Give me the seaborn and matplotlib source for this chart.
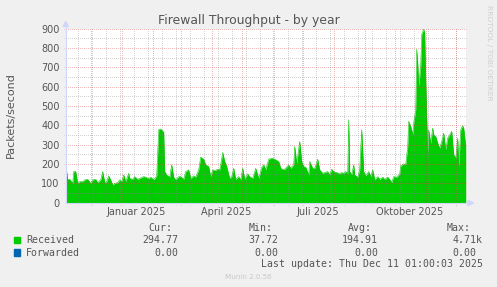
import numpy as np
import pandas as pd
import matplotlib
matplotlib.use("Agg")
import matplotlib.pyplot as plt
from matplotlib.patches import Rectangle, Polygon
from matplotlib.lines import Line2D
import seaborn as sns

# ---------------- data ----------------
dates = ["2024-11-06","2024-11-08","2024-11-10","2024-11-13","2024-11-14","2024-11-16","2024-11-18","2024-11-20","2024-11-23","2024-11-25","2024-11-28",
         "2024-12-01","2024-12-03","2024-12-06","2024-12-08","2024-12-11","2024-12-13","2024-12-15","2024-12-17","2024-12-19","2024-12-21","2024-12-23","2024-12-25","2024-12-28","2024-12-30",
         "2025-01-01","2025-01-03","2025-01-05","2025-01-08","2025-01-09","2025-01-12","2025-01-14","2025-01-17","2025-01-19","2025-01-23","2025-01-25","2025-01-28","2025-01-30",
         "2025-02-02","2025-02-05","2025-02-07","2025-02-09","2025-02-12","2025-02-13","2025-02-15","2025-02-18","2025-02-20","2025-02-22","2025-02-24","2025-02-27",
         "2025-03-01","2025-03-04","2025-03-06","2025-03-09","2025-03-11","2025-03-14","2025-03-16","2025-03-19","2025-03-21","2025-03-24","2025-03-26","2025-03-29","2025-03-31",
         "2025-04-02","2025-04-04","2025-04-07","2025-04-09","2025-04-10","2025-04-12","2025-04-14","2025-04-16","2025-04-19","2025-04-21","2025-04-23","2025-04-25","2025-04-28","2025-04-30",
         "2025-05-02","2025-05-04","2025-05-07","2025-05-09","2025-05-12","2025-05-15","2025-05-18","2025-05-21","2025-05-23","2025-05-25","2025-05-28","2025-05-31",
         "2025-06-03","2025-06-07","2025-06-09","2025-06-12","2025-06-14","2025-06-17","2025-06-19","2025-06-22","2025-06-23","2025-06-25","2025-06-28","2025-06-30",
         "2025-07-02","2025-07-04","2025-07-07","2025-07-08","2025-07-11","2025-07-13","2025-07-16","2025-07-18","2025-07-21","2025-07-23","2025-07-26","2025-07-28","2025-07-30",
         "2025-08-01","2025-08-04","2025-08-07","2025-08-09","2025-08-11","2025-08-13","2025-08-15","2025-08-16","2025-08-17","2025-08-19","2025-08-21","2025-08-22","2025-08-25","2025-08-27","2025-08-29","2025-08-31",
         "2025-09-02","2025-09-05","2025-09-07","2025-09-09","2025-09-11","2025-09-14","2025-09-16","2025-09-19","2025-09-21","2025-09-24","2025-09-26","2025-09-28","2025-09-30",
         "2025-10-03","2025-10-06","2025-10-07","2025-10-10","2025-10-12","2025-10-14","2025-10-15","2025-10-17","2025-10-19","2025-10-20","2025-10-22","2025-10-23","2025-10-24","2025-10-25","2025-10-27","2025-10-28","2025-10-30","2025-10-31",
         "2025-11-01","2025-11-03","2025-11-04","2025-11-06","2025-11-08","2025-11-09","2025-11-11","2025-11-13","2025-11-15","2025-11-17","2025-11-19","2025-11-21","2025-11-23","2025-11-25","2025-11-27","2025-11-29",
         "2025-12-01","2025-12-03","2025-12-04","2025-12-06","2025-12-08","2025-12-09","2025-12-11"]

received = [196,121,121,100,161,161,100,109,109,118,121,
            100,118,121,104,118,161,104,109,139,118,92,100,104,118,
            109,144,109,152,126,121,135,121,126,135,132,125,132,
            118,139,378,381,365,161,144,132,196,132,118,135,
            135,121,161,170,126,139,132,170,236,225,196,187,135,
            170,166,173,170,196,260,213,187,126,135,178,121,135,118,
            178,121,149,135,126,178,126,182,196,170,225,230,
            225,213,178,170,178,196,178,196,291,204,317,213,
            187,184,144,213,178,178,225,170,152,156,161,144,173,
            161,156,149,156,152,161,152,429,161,144,196,144,132,170,378,161,
            139,161,135,170,118,135,121,132,121,132,121,104,135,
            132,149,190,201,196,291,421,395,352,412,481,793,724,603,707,871,897,880,
            637,256,377,308,386,352,343,308,282,317,360,274,334,352,369,248,
            230,334,187,377,398,386,295]

y_ticks = [0, 100, 200, 300, 400, 500, 600, 700, 800, 900]
x_labels = ["Januar 2025", "April 2025", "Juli 2025", "Oktober 2025"]
x_label_dates = ["2025-01-15 01:00", "2025-04-15 01:00", "2025-07-16 01:00", "2025-10-16 01:00"]

legend_names = ["Received", "Forwarded"]
legend_colors = ["#00CC00", "#0066B3"]
cur_vals = ["294.77", "0.00"]
min_vals = ["37.72", "0.00"]
avg_vals = ["194.91", "0.00"]
max_vals = ["4.71k", "0.00"]

title = "Firewall Throughput - by year"
ylabel = "Packets/second"
last_update = "Last update: Thu Dec 11 01:00:03 2025"
munin_version = "Munin 2.0.56"
rrd_credit = "RRDTOOL / TOBI OETIKER"

# ---------------- figure ----------------
W, H = 497, 287
fig = plt.figure(figsize=(W / 100, H / 100), dpi=100, facecolor="#F0F0F0")

def fx(x):
    return x / W

def fy(y):
    return 1 - y / H

AX_L, AX_R, AX_B, AX_T = 65.75, 465.75, 202.7, 28.7
ax = fig.add_axes([fx(AX_L), fy(AX_B), (AX_R - AX_L) / W, (AX_B - AX_T) / H])
ax.set_facecolor("white")
for s in ax.spines.values():
    s.set_visible(False)

df = pd.DataFrame({"date": pd.to_datetime(dates), "received": received})
assert len(dates) == len(received)

ax.fill_between(df["date"], 0, df["received"], color="#00CC00", linewidth=0, zorder=2)
sns.lineplot(data=df, x="date", y="received", ax=ax, color="#00CC00", linewidth=0.4, zorder=2)

start = pd.Timestamp("2024-11-06 01:00")
end = pd.Timestamp("2025-12-11 01:00")
ax.set_xlim(start, end)
ax.set_ylim(0, 900)

# dotted grid drawn over the data (as rrdtool does), extended 2px past the axes
ext_x = 2.0 / (AX_B - AX_T)
ext_y = 2.0 / (AX_R - AX_L)
dot = (0.5, (1, 1))          # 1px on / 1px off, aligned to pixel edges
grid_kw = dict(lw=0.72, ls=dot, clip_on=False, snap=True, dash_capstyle="butt", alpha=0.36)
minor_col = "#858585"
major_col = "#D04040"
minor_v = pd.date_range("2024-11-18", "2025-12-10", freq="14D")
major_v = pd.date_range("2024-12-01", "2025-12-01", freq="MS")
for d in minor_v:
    ax.axvline(d, ymin=-ext_x, ymax=1, color=minor_col, zorder=3, **grid_kw)
for d in major_v:
    ax.axvline(d, ymin=-ext_x, ymax=1, color=major_col, zorder=4, **grid_kw)
for v in np.arange(50, 900, 100):
    ax.axhline(v, xmin=-ext_y, xmax=1, color=minor_col, zorder=3, **grid_kw)
for v in y_ticks[1:]:
    ax.axhline(v, xmin=-ext_y, xmax=1, color=major_col, zorder=4, **grid_kw)

ax.set_yticks(y_ticks)
ax.set_yticklabels([str(v) for v in y_ticks])
ax.set_xticks(pd.to_datetime(x_label_dates))
ax.set_xticklabels(x_labels)
ax.tick_params(axis="y", length=0, pad=4.3, labelsize=7, labelcolor="#555555")
ax.tick_params(axis="x", length=0, pad=3.3, labelsize=7, labelcolor="#555555")
ax.set_xlabel("")
ax.set_ylabel("")

# axis lines and arrows
axis_col = "#CFD6F8"
fig.add_artist(Line2D([fx(AX_L), fx(AX_L)], [fy(AX_B + 0.5), fy(25)], color=axis_col, lw=0.8, transform=fig.transFigure))
fig.add_artist(Line2D([fx(AX_L), fx(470)], [fy(AX_B + 0.3), fy(AX_B + 0.3)], color=axis_col, lw=0.8, transform=fig.transFigure))
fig.add_artist(Polygon([[fx(AX_L - 2.6), fy(26.5)], [fx(AX_L + 2.6), fy(26.5)], [fx(AX_L), fy(21.5)]],
                       closed=True, color=axis_col, transform=fig.transFigure))
fig.add_artist(Polygon([[fx(468), fy(AX_B - 2.3)], [fx(468), fy(AX_B + 2.9)], [fx(473.5), fy(AX_B + 0.3)]],
                       closed=True, color=axis_col, transform=fig.transFigure))

txt = "#555555"
fig.text(fx(248.5), fy(24), title, ha="center", va="baseline", fontsize=8.9, color=txt)
fig.text(fx(10.5), fy(115.5), ylabel, rotation=90, ha="center", va="center", fontsize=8, color=txt)
fig.text(fx(488.5), fy(53), rrd_credit, rotation=270, ha="center", va="center", fontsize=5.4, color="#CFCFCF")

# legend block
mono = "DejaVu Sans Mono"
fs = 7.1
headers = ["Cur:", "Min:", "Avg:", "Max:"]
header_right = [172.5, 272.5, 371.5, 471.0]
for h, xr in zip(headers, header_right):
    fig.text(fx(xr), fy(230.7), h, ha="right", va="baseline", fontsize=fs, family=mono, color=txt)

row_base = [243.3, 255.6]
cols = [cur_vals, min_vals, avg_vals, max_vals]
col_right = [178.6, 278.6, 377.9, 482.6]
for i, name in enumerate(legend_names):
    yb = row_base[i]
    fig.add_artist(Rectangle((fx(14), fy(yb)), 6.3 / W, 6.3 / H, color=legend_colors[i], transform=fig.transFigure))
    fig.text(fx(26.3), fy(yb), name, ha="left", va="baseline", fontsize=fs, family=mono, color=txt)
    for c, xr in zip(cols, col_right):
        val = c[i]
        xx = xr
        if c is max_vals and not val.endswith("k"):
            xx = xr - 6.0
        fig.text(fx(xx), fy(yb), val, ha="right", va="baseline", fontsize=fs, family=mono, color=txt)

fig.text(fx(482.6), fy(267.4), last_update, ha="right", va="baseline", fontsize=fs, family=mono, color=txt)
fig.text(fx(248), fy(279), munin_version, ha="center", va="baseline", fontsize=5.1, color="#C8C8C8")

fig.savefig("out.png", dpi=100, facecolor=fig.get_facecolor())
